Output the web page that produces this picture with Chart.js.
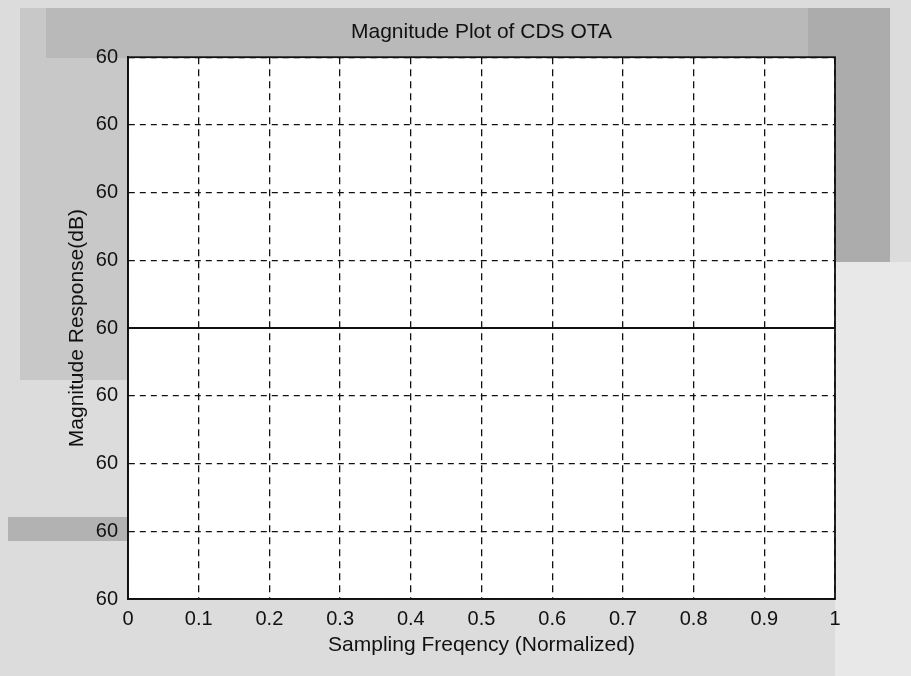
<!DOCTYPE html>
<html>
<head>
<meta charset="utf-8">
<script src="https://cdn.jsdelivr.net/npm/chart.js@4"></script>
<style>
  html, body { margin: 0; padding: 0; background: #d9d9d9; }
  #wrap { width: 911px; height: 676px; position: relative; }
</style>
</head>
<body>
<div id="wrap"><canvas id="c" width="911" height="676"></canvas></div>
<script>
// ---- data ----
const titleText = 'Magnitude Plot of CDS OTA';
const xTitle = 'Sampling Freqency (Normalized)';
const yTitle = 'Magnitude Response(dB)';
const freq = [0, 0.1, 0.2, 0.3, 0.4, 0.5, 0.6, 0.7, 0.8, 0.9, 1];
const magnitude = [60, 60, 60, 60, 60, 60, 60, 60, 60, 60, 60];
const xTickLabels = ['0', '0.1', '0.2', '0.3', '0.4', '0.5', '0.6', '0.7', '0.8', '0.9', '1'];
const yTickLabels = ['60', '60', '60', '60', '60', '60', '60', '60', '60'];
const yMin = 59.6, yMax = 60.4, yStep = 0.1;

const FONT = "'Liberation Sans', Arial, sans-serif";
const TXT = '#111111';

const bgPlugin = {
  id: 'bg',
  beforeDraw(chart) {
    const ctx = chart.ctx, a = chart.chartArea;
    ctx.save();
    ctx.fillStyle = '#dcdcdc';
    ctx.fillRect(0, 0, chart.width, chart.height);
    ctx.fillStyle = '#c8c8c8';
    ctx.fillRect(20, 8, 108, 372);
    ctx.fillStyle = '#b9b9b9';
    ctx.fillRect(46, 8, 844, 50);
    ctx.fillStyle = '#acacac';
    ctx.fillRect(808, 8, 82, 254);
    ctx.fillStyle = '#b2b2b2';
    ctx.fillRect(8, 517, 120, 24);
    ctx.fillStyle = '#e8e8e8';
    ctx.fillRect(835, 262, 76, 414);
    ctx.fillStyle = '#ffffff';
    ctx.fillRect(a.left, a.top, a.right - a.left, a.bottom - a.top);
    ctx.restore();
  },
  afterDraw(chart) {
    const ctx = chart.ctx, a = chart.chartArea;
    ctx.save();
    ctx.strokeStyle = '#111';
    ctx.lineWidth = 1.8;
    ctx.strokeRect(a.left, a.top, a.right - a.left, a.bottom - a.top);
    ctx.restore();
  }
};

new Chart(document.getElementById('c'), {
  type: 'line',
  data: {
    datasets: [{
      data: freq.map((f, i) => ({ x: f, y: magnitude[i] })),
      borderColor: '#111',
      borderWidth: 2,
      pointRadius: 0,
      fill: false,
      tension: 0
    }]
  },
  options: {
    responsive: false,
    animation: false,
    layout: { padding: { left: 0, right: 76, top: 0, bottom: 0 } },
    plugins: {
      legend: { display: false },
      tooltip: { enabled: false },
      title: {
        display: true,
        fullSize: false,
        text: titleText,
        color: TXT,
        font: { family: FONT, size: 21, weight: 'normal' },
        padding: { top: 20, bottom: 12 }
      }
    },
    scales: {
      x: {
        type: 'linear',
        min: 0, max: 1,
        afterFit(s) { s.height = 77; },
        afterBuildTicks(s) { s.ticks = freq.map(v => ({ value: v })); },
        ticks: {
          color: TXT,
          font: { family: FONT, size: 20 },
          padding: 8,
          maxRotation: 0,
          autoSkip: false,
          callback: (v, i) => xTickLabels[i]
        },
        grid: {
          color: '#111',
          lineWidth: 1.3,
          drawTicks: false
        },
        border: { display: true, color: '#111', width: 1.8, dash: [7, 5] },
        title: {
          display: true,
          text: xTitle,
          color: TXT,
          font: { family: FONT, size: 21 },
          padding: { top: 0, bottom: 18 }
        }
      },
      y: {
        type: 'linear',
        min: yMin, max: yMax,
        afterFit(s) { s.width = 128; },
        ticks: {
          stepSize: yStep,
          color: TXT,
          font: { family: FONT, size: 20 },
          padding: 10,
          callback: (v, i) => yTickLabels[i]
        },
        grid: {
          color: '#111',
          lineWidth: 1.3,
          drawTicks: false
        },
        border: { display: true, color: '#111', width: 1.8, dash: [6, 5] },
        title: {
          display: true,
          text: yTitle,
          color: TXT,
          font: { family: FONT, size: 21 },
          padding: { top: 65, bottom: 0 }
        }
      }
    }
  },
  plugins: [bgPlugin]
});
</script>
</body>
</html>
